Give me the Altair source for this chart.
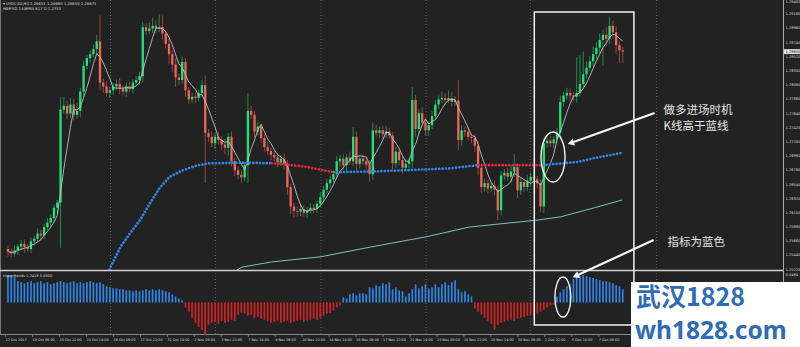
import altair as alt
import pandas as pd

# price = BASE + pips / 10000
BASE = 1.25

closes = [
    50, 47, 52, 58, 62, 57, 54, 66, 70, 78,
    75, 88, 95, 102, 118, 126, 270, 276, 264, 278,
    262, 268, 298, 338, 350, 356, 364, 376, 312, 306,
    296, 300, 306, 310, 303, 298, 306, 302, 312, 316,
    322, 398, 392, 396, 400, 396, 398, 388, 372, 356,
    340, 320, 316, 344, 300, 286, 290, 288, 296, 308,
    234, 228, 218, 228, 223, 216, 211, 228, 190, 176,
    169, 165, 184, 268, 262, 236, 244, 226, 212, 206,
    200, 196, 188, 194, 186, 150, 120, 113, 112, 116,
    110, 114, 118, 116, 124, 134, 146, 156, 162, 170,
    190, 194, 184, 196, 190, 228, 186, 194, 190, 185,
    170, 238, 234, 238, 232, 236, 230, 187, 205, 192,
    180, 186, 190, 285, 240, 265, 250, 238, 246, 260,
    278, 286, 288, 285, 288, 282, 284, 223, 238, 236,
    228, 226, 214, 180, 150, 156, 148, 152, 146, 114,
    168, 172, 166, 174, 181, 145, 158, 150, 160, 166,
    162, 156, 120, 218, 222, 218, 224, 234, 282, 292,
    296, 292, 290, 296, 310, 325, 335, 345, 356, 366,
    378, 386, 380, 400, 390, 370, 362, 360,
]
first_open = 54

upper_wick = [
    6, 5, 8, 4, 6, 7, 5, 6, 4, 8,
    6, 5, 7, 6, 5, 4, 20, 14, 8, 10,
    9, 12, 6, 8, 5, 6, 7, 10, 40, 6,
    8, 5, 6, 7, 9, 5, 6, 8, 5, 6,
    7, 8, 6, 9, 12, 8, 20, 18, 6, 8,
    7, 10, 6, 8, 6, 5, 6, 7, 5, 8,
    15, 6, 8, 5, 7, 6, 9, 6, 8, 5,
    6, 7, 5, 28, 8, 6, 7, 5, 6, 8,
    5, 6, 7, 6, 8, 6, 5, 6, 7, 5,
    6, 5, 7, 6, 5, 8, 6, 7, 5, 6,
    8, 6, 7, 5, 9, 15, 8, 6, 7, 5,
    6, 12, 8, 6, 7, 9, 6, 5, 8, 6,
    5, 7, 6, 20, 8, 6, 9, 7, 6, 8,
    7, 6, 10, 8, 12, 9, 7, 32, 8, 6,
    7, 5, 6, 8, 6, 7, 5, 6, 8, 6,
    7, 6, 8, 9, 20, 6, 7, 5, 8, 6,
    7, 5, 6, 8, 6, 7, 5, 8, 10, 6,
    8, 7, 6, 55, 45, 35, 10, 8, 12, 9,
    10, 8, 12, 14, 8, 9, 6, 5,
]
lower_wick = [
    8, 6, 5, 7, 6, 9, 5, 6, 7, 5,
    8, 6, 5, 7, 6, 8, 70, 6, 9, 7,
    8, 6, 10, 8, 6, 7, 5, 8, 12, 10,
    6, 8, 7, 5, 9, 6, 8, 5, 7, 6,
    8, 10, 6, 5, 7, 8, 6, 9, 7, 15,
    12, 15, 8, 6, 10, 7, 6, 8, 5, 7,
    78, 8, 6, 9, 7, 8, 10, 12, 8, 9,
    7, 8, 6, 28, 7, 9, 6, 8, 7, 6,
    8, 6, 7, 5, 9, 12, 12, 10, 8, 7,
    6, 8, 5, 7, 6, 5, 8, 6, 7, 5,
    6, 8, 7, 9, 6, 8, 10, 7, 6, 8,
    12, 9, 6, 8, 7, 6, 5, 10, 7, 8,
    9, 6, 7, 10, 12, 7, 6, 8, 9, 6,
    5, 7, 6, 8, 5, 7, 6, 16, 9, 8,
    6, 8, 10, 12, 9, 7, 8, 6, 9, 15,
    8, 7, 6, 9, 8, 12, 7, 8, 6, 9,
    7, 8, 9, 10, 7, 6, 8, 5, 9, 7,
    6, 8, 7, 9, 6, 8, 7, 6, 8, 7,
    9, 40, 12, 8, 10, 14, 20, 18,
]

# oscillator histogram (indicator units)
hist = [
    27, 26, 25, 21, 20, 19, 20, 21, 19, 20, 21, 19, 20, 18, 19, 20,
    21, 20, 19, 20, 21, 19, 20, 19, 20, 21, 20, 19, 20, 18,
    16, 15, 14, 14, 13, 13, 12, 12, 11, 12, 11, 12,
    13, 12, 13, 12, 13, 12, 11, 10,
    8, 6, 4, 2,
    -5, -9, -15, -20, -24, -27, -32, -22, -20, -19, -21, -18, -20, -19, -17, -18,
    -12, -10, -11, -13, -12, -15, -14, -16, -17,
    -18, -20, -19, -18, -20, -19, -18, -20,
    -19, -18, -17, -19, -18, -17, -16, -17, -15,
    -13, -11, -10, -8, -5, -3,
    5, 4, 8, 9, 7, 9, 9, 8, 15, 14, 17, 16, 19, 18, 20, 13, 15, 12, 11, 6,
    9, 13, 18, 14, 16, 18, 14, 15, 18, 15, 18, 20, 17, 20, 22, 13, 10, 11, 8, 6,
    -6, -9, -12, -15, -18, -21, -27, -22, -20, -19, -18, -17, -18, -16, -15,
    -14, -13, -12, -13, -11, -9, -7, -5, -3, -2,
    6, 10, 13, 16, 18, 23, 25, 26, 27, 26, 25, 24, 23, 22, 21, 21, 20, 19, 17, 16, 13,
]

# colour-changing dotted moving average, read at a few bars per segment
ma_blue1_i = [30.9, 31.2, 34.2, 37.2, 40.2, 43.2, 46.2, 49.2, 53.2, 57.1, 61.3, 65.2, 69.1, 80.2]
ma_blue1_p = [22, 26, 57, 79, 99, 125, 149, 166, 176, 183, 187, 187, 188, 187]
ma_red1_i = [80.2, 90.0, 99.1]
ma_red1_p = [187, 182, 173]
ma_blue2_i = [99.1, 110.0, 120.1, 134.2, 143.2]
ma_blue2_p = [173, 174, 176, 179, 184]
ma_red2_i = [143.2, 153.0, 162.8]
ma_red2_p = [184, 184, 184]
ma_blue3_i = [162.8, 173.3, 178.4, 186.8]
ma_blue3_p = [184, 189, 195, 203]

# slow cyan moving average
cyan_i = [69.7, 71.2, 80.2, 95.2, 110.2, 127.3, 140.2, 161.3, 168.2, 178.4, 186.8]
cyan_p = [21.5, 26, 34, 42, 57, 73, 88, 99, 104, 118, 130]

# period separators
grid_i = [31.2, 63.1, 95.2, 127.2, 158.9, 197.3]

# axis ticks
price_top_tick = 440
price_ticks = [418, 396, 374, 352, 330, 308, 286, 264, 242,
               220, 198, 176, 154, 132, 110, 88, 66, 44, 22]
time_tick_pos = [-0.7, 7.5, 15.7, 23.9, 32.1, 40.3, 48.5, 56.7, 64.9, 73.1, 81.3, 89.5,
                 97.7, 105.9, 114.1, 122.3, 130.5, 138.7, 146.9, 155.1, 163.3, 171.5, 179.7]
time_tick_labels = ["17 Oct 2017", "19 Oct 06:00", "20 Oct 22:00", "24 Oct 14:00",
                    "26 Oct 06:00", "27 Oct 22:00", "31 Oct 14:00", "2 Nov 06:00",
                    "3 Nov 22:00", "7 Nov 14:00", "9 Nov 06:00", "10 Nov 22:00",
                    "14 Nov 14:00", "16 Nov 06:00", "17 Nov 22:00", "21 Nov 14:00",
                    "23 Nov 06:00", "24 Nov 22:00", "28 Nov 14:00", "30 Nov 06:00",
                    "1 Dec 22:00", "5 Dec 14:00", "7 Dec 06:00"]

header1 = "\u25be USDCAD,H4  1.28651 1.28690 1.28650 1.28671"
header2 = "HBP/SD 144EMA 617  D 1.2755"
ind_title = "HyperBands 1.2418 0.0000"
ind_top_label = "0.0484"
note1 = "做多进场时机"
note2 = "K线高于蓝线"
note3 = "指标为蓝色"
wm1 = "武汉1828"
wm2 = "wh1828.com"

# ---------------- build tables ----------------
opens = [first_open] + closes[:-1]
df = pd.DataFrame({
    "i": list(range(len(closes))),
    "open": opens,
    "close": closes,
    "uw": upper_wick,
    "lw": lower_wick,
    "h": hist,
})
df["high"] = df[["open", "close"]].max(axis=1) + df["uw"]
df["low"] = df[["open", "close"]].min(axis=1) - df["lw"]

GREEN = "#22e27a"
RED = "#f0665c"
BLUE = "#2f84e6"
CRIMSON = "#dc2a3c"
TXT = "#d8d8d8"

xs = alt.Scale(domain=[-0.9, 234.234], nice=False, zero=False)
ps = alt.Scale(domain=[21.5, 440], range=[270, 0], nice=False, zero=False)
hs = alt.Scale(domain=[-31, 31], range=[334, 271], nice=False)


def X(field="i"):
    return alt.X(f"{field}:Q", scale=xs, axis=None)


def P(field="p"):
    return alt.Y(f"{field}:Q", scale=ps, axis=None)


base = alt.Chart(df)
one = pd.DataFrame({"k": [0]})

grid = alt.Chart(pd.DataFrame({"i": grid_i})).mark_rule(
    color="#5c5c5c", strokeDash=[1, 2], strokeWidth=1
).encode(x=X(), y=alt.value(0), y2=alt.value(334))

sep = alt.Chart(one).mark_rule(color="#d0d0d0", strokeWidth=1.3).encode(
    x=alt.value(0), x2=alt.value(783), y=alt.value(270.5))
bottom_edge = alt.Chart(one).mark_rule(color="#8a8a8a", strokeWidth=1, clip=False).encode(
    x=alt.value(0), x2=alt.value(783), y=alt.value(334.5))
right_edge = alt.Chart(one).mark_rule(color="#aaaaaa", strokeWidth=1, clip=False).encode(
    x=alt.value(783.5), y=alt.value(0), y2=alt.value(334.5))
left_edge = alt.Chart(one).mark_rule(color="#777777", strokeWidth=1).encode(
    x=alt.value(0.5), y=alt.value(0), y2=alt.value(334))

cyan = alt.Chart(pd.DataFrame({"i": cyan_i, "p": cyan_p})).mark_line(
    color="#78c2c2", strokeWidth=1
).encode(x=X(), y=P())

cond_col = alt.condition("datum.close >= datum.open", alt.value(GREEN), alt.value(RED))
wicks = base.mark_rule(strokeWidth=1, opacity=0.55).encode(
    x=X(), y=P("low"), y2="high:Q", color=cond_col)
bodies = base.mark_bar(size=2.3).encode(
    x=X(), y=P("open"), y2="close:Q", color=cond_col)
fast_ma = base.transform_window(
    ma="mean(close)", frame=[-4, 0], sort=[alt.SortField("i")]
).mark_line(color="#bdbdbd", strokeWidth=0.9).encode(x=X(), y=P("ma"))

blue_rows, red_rows = [], []
for seg, (ii, pp) in enumerate([(ma_blue1_i, ma_blue1_p), (ma_blue2_i, ma_blue2_p), (ma_blue3_i, ma_blue3_p)]):
    blue_rows += [{"seg": seg, "i": a, "p": b} for a, b in zip(ii, pp)]
for seg, (ii, pp) in enumerate([(ma_red1_i, ma_red1_p), (ma_red2_i, ma_red2_p)]):
    red_rows += [{"seg": seg, "i": a, "p": b} for a, b in zip(ii, pp)]
dot_kw = dict(strokeWidth=2.7, strokeDash=[0.1, 3.3], strokeCap="round")
ma_blue = alt.Chart(pd.DataFrame(blue_rows)).mark_line(color=BLUE, **dot_kw).encode(
    x=X(), y=P(), detail="seg:N")
ma_red = alt.Chart(pd.DataFrame(red_rows)).mark_line(color=CRIMSON, **dot_kw).encode(
    x=X(), y=P(), detail="seg:N")

# price-axis labels (right side) and time-axis labels (bottom), drawn from the tick lists
lab_kw = dict(align="left", fontSize=3.6, color=TXT, font="DejaVu Sans", clip=False)
price_lab = alt.Chart(pd.DataFrame({"p": price_ticks})).transform_calculate(
    t="format(1.25 + datum.p / 10000, '.5f')"
).mark_text(baseline="middle", **lab_kw).encode(x=alt.value(785.5), y=P(), text="t:N")
price_lab_top = alt.Chart(pd.DataFrame({"p": [price_top_tick]})).transform_calculate(
    t="format(1.25 + datum.p / 10000, '.5f')"
).mark_text(baseline="top", **lab_kw).encode(x=alt.value(785.5), y=P(), text="t:N")
time_df = pd.DataFrame({"i": time_tick_pos, "t": time_tick_labels})
time_lab = alt.Chart(time_df).mark_text(
    align="left", baseline="middle", fontSize=3.4, color=TXT, font="DejaVu Sans", clip=False
).encode(x=X(), y=alt.value(340), text="t:N")
time_ticks = alt.Chart(time_df).mark_rule(color="#888888", strokeWidth=0.8, clip=False).encode(
    x=X(), y=alt.value(334.5), y2=alt.value(337))

last_df = pd.DataFrame({"p": [closes[-1]], "lo": [closes[-1] - 3.8], "hi": [closes[-1] + 3.8],
                        "t": [f"{BASE + closes[-1] / 10000:.5f}"]})
price_box = alt.Chart(last_df).mark_rect(color="#e6e6e6", clip=False).encode(
    x=alt.value(784), x2=alt.value(800), y=P("lo"), y2="hi:Q")
price_txt = alt.Chart(last_df).mark_text(align="left", baseline="middle", fontSize=3.6,
                                         color="#111111", font="DejaVu Sans", clip=False).encode(
    x=alt.value(785.5), y=P(), text="t:N")

hdr1 = alt.Chart(pd.DataFrame({"t": [header1]})).mark_text(
    align="left", baseline="middle", fontSize=3.8, color=TXT, font="DejaVu Sans"
).encode(x=alt.value(3), y=alt.value(3.5), text="t:N")
hdr2 = alt.Chart(pd.DataFrame({"t": [header2]})).mark_text(
    align="left", baseline="middle", fontSize=3.8, color=TXT, font="DejaVu Sans"
).encode(x=alt.value(3), y=alt.value(8.5), text="t:N")

price_group = alt.layer(grid, cyan, wicks, bodies, fast_ma, ma_blue, ma_red,
                        left_edge, sep, bottom_edge, right_edge, price_lab, price_lab_top,
                        time_ticks, time_lab, price_box, price_txt, hdr1, hdr2)

hist_cond = alt.condition("datum.h >= 0", alt.value(BLUE), alt.value("#d02424"))
hbars = base.mark_bar(size=1.7).encode(
    x=X(), y=alt.Y("h:Q", scale=hs, axis=None), color=hist_cond)
ind_t1 = alt.Chart(pd.DataFrame({"t": [ind_title]})).mark_text(
    align="left", baseline="middle", fontSize=3.6, color=TXT, font="DejaVu Sans"
).encode(x=alt.value(3), y=alt.value(275.5), text="t:N")
ind_t2 = alt.Chart(pd.DataFrame({"t": [ind_top_label]})).mark_text(
    align="left", baseline="middle", fontSize=3.6, color=TXT, font="DejaVu Sans", clip=False
).encode(x=alt.value(785.5), y=alt.value(274.5), text="t:N")

ind_group = alt.layer(hbars, ind_t1, ind_t2)

# annotations (in bar-index / pip units)
box = alt.Chart(pd.DataFrame({"i": [160.1], "i2": [190.4], "p": [421.4], "p2": [-63.75]})).mark_rect(
    fill="transparent", stroke="#f2f2f2", strokeWidth=1.5, clip=False
).encode(x=X(), x2="i2:Q", y=P(), y2="p2:Q")


def ellipse_path(a):
    k = 0.5523
    return (f"M0,-1 C{k*a:.4f},-1 {a:.4f},{-k:.4f} {a:.4f},0 "
            f"C{a:.4f},{k:.4f} {k*a:.4f},1 0,1 "
            f"C{-k*a:.4f},1 {-a:.4f},{k:.4f} {-a:.4f},0 "
            f"C{-a:.4f},{-k:.4f} {-k*a:.4f},-1 0,-1 Z")


ell1 = alt.Chart(pd.DataFrame({"i": [165.8], "p": [196.6]})).mark_point(
    shape=ellipse_path(0.48), size=2500, filled=False, stroke="#f2f2f2", strokeWidth=1.4,
    opacity=1, clip=False
).encode(x=X(), y=P())
ell2 = alt.Chart(pd.DataFrame({"i": [168.8], "p": [-20.4]})).mark_point(
    shape=ellipse_path(0.40), size=1600, filled=False, stroke="#f2f2f2", strokeWidth=1.4,
    opacity=1, clip=False
).encode(x=X(), y=P())

arrows_df = pd.DataFrame({
    "i": [196.7, 196.4], "p": [264.9, 68.0],
    "i2": [171.2, 172.7], "p2": [218.4, 12.2],
    "ang": [250.5, 245.5],
})
arrow_lines = alt.Chart(arrows_df).mark_rule(color="#f4f4f4", strokeWidth=2.2, clip=False).encode(
    x=X(), x2="i2:Q", y=P(), y2="p2:Q")
arrow_heads = alt.Chart(arrows_df).mark_point(
    shape="triangle-up", filled=True, color="#f4f4f4", size=55, opacity=1, clip=False
).encode(x=X("i2"), y=P("p2"), angle=alt.Angle("ang:Q", scale=None))

notes = alt.Chart(pd.DataFrame({
    "i": [199.4, 199.4, 200.6], "p": [267.2, 242.4, 64.1], "t": [note1, note2, note3]
})).mark_text(align="left", baseline="middle", font="Noto Sans CJK SC", fontSize=11.5,
              color="#e4e4e4", clip=False).encode(x=X(), y=P(), text="t:N")

wm_bg = alt.Chart(one).mark_rect(color="#ffffff", clip=False).encode(
    x=alt.value(631), x2=alt.value(800), y=alt.value(282), y2=alt.value(347))
wm_t1 = alt.Chart(pd.DataFrame({"t": [wm1]})).mark_text(
    align="left", baseline="middle", font="Noto Sans CJK SC", fontWeight="bold", fontSize=25,
    color="#2e6cb4", clip=False).encode(x=alt.value(636), y=alt.value(298), text="t:N")
wm_t2 = alt.Chart(pd.DataFrame({"t": [wm2]})).mark_text(
    align="left", baseline="middle", font="Noto Sans", fontWeight="bold", fontSize=24.5,
    color="#2e6cb4", clip=False).encode(x=alt.value(635), y=alt.value(332), text="t:N")

annot_group = alt.layer(box, ell1, ell2, arrow_lines, arrow_heads, notes, wm_bg, wm_t1, wm_t2)

chart = alt.layer(price_group, ind_group, annot_group).resolve_scale(
    y="independent"
).properties(
    width=783, height=334, background="#222222",
    padding={"left": 0, "top": 0, "right": 17, "bottom": 13},
    autosize=alt.AutoSizeParams(type="none"),
).configure_view(strokeWidth=0)

chart.save("out.html", embed_options={"renderer": "svg", "actions": False})
